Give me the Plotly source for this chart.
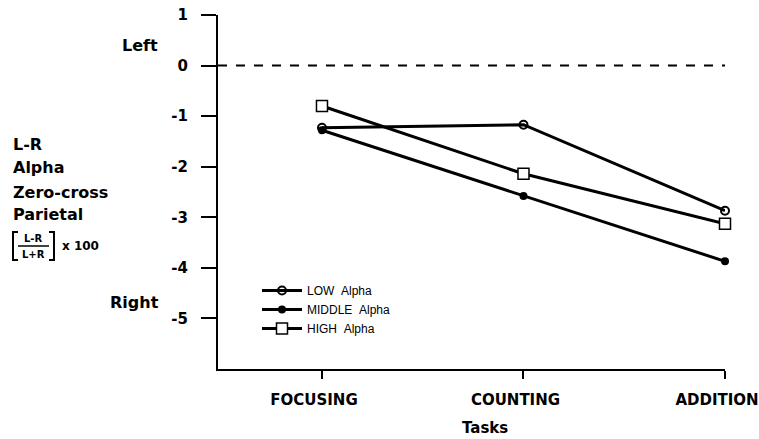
import plotly.graph_objects as go

tasks = ["FOCUSING", "COUNTING", "ADDITION"]
task_pos = [0, 1, 2]
low_alpha = [-1.23, -1.17, -2.87]
middle_alpha = [-1.28, -2.58, -3.87]
high_alpha = [-0.80, -2.14, -3.13]
y_ticks = [1, 0, -1, -2, -3, -4, -5]
y_tick_labels = ["1", "0", "-1", "-2", "-3", "-4", "-5"]

W, H = 759, 439
L, R, T, B = 218, 34, 15, 70
PW, PH = W - L - R, H - T - B


def px(x):
    return (x - L) / PW


def py(y):
    return (H - B - y) / PH


BOLD = dict(family="DejaVu Sans", size=15, color="black", weight="bold")
SIDE = dict(family="DejaVu Sans", size=16, color="black", weight="bold")

fig = go.Figure()
fig.add_trace(go.Scatter(
    x=task_pos, y=low_alpha, name="LOW\u00a0\u00a0Alpha", mode="lines+markers",
    line=dict(color="black", width=3),
    marker=dict(symbol="circle-open", size=8, color="black", line=dict(width=2)),
    cliponaxis=False))
fig.add_trace(go.Scatter(
    x=task_pos, y=middle_alpha, name="MIDDLE\u00a0\u00a0Alpha", mode="lines+markers",
    line=dict(color="black", width=3),
    marker=dict(symbol="circle", size=8, color="black"),
    cliponaxis=False))
fig.add_trace(go.Scatter(
    x=task_pos, y=high_alpha, name="HIGH\u00a0\u00a0Alpha", mode="lines+markers",
    line=dict(color="black", width=3),
    marker=dict(symbol="square", size=11, color="white", line=dict(width=1.5, color="black")),
    cliponaxis=False))

shapes = [
    dict(type="line", xref="x", yref="y", x0=-0.516, x1=2.02, y0=0, y1=0,
         line=dict(color="black", width=2, dash="dash")),
    # bracket decoration for the fraction label
    dict(type="path", xref="paper", yref="paper",
         path=f"M {px(18)} {py(232)} L {px(13)} {py(232)} L {px(13)} {py(260)} L {px(18)} {py(260)}",
         line=dict(color="black", width=2)),
    dict(type="path", xref="paper", yref="paper",
         path=f"M {px(49)} {py(232)} L {px(54)} {py(232)} L {px(54)} {py(260)} L {px(49)} {py(260)}",
         line=dict(color="black", width=2)),
    dict(type="line", xref="paper", yref="paper", x0=px(18), x1=px(49), y0=py(246), y1=py(246),
         line=dict(color="black", width=1.5)),
]

annotations = []


def add_text(text, x, y, xanchor="left", font=None):
    annotations.append(dict(text=text, x=px(x), y=py(y), xref="paper", yref="paper",
                            xanchor=xanchor, yanchor="middle", showarrow=False,
                            font=font or BOLD))


add_text("Left", 140, 45, "center", SIDE)
add_text("Right", 134, 302, "center", SIDE)
add_text("L-R", 11, 145, font=SIDE)
add_text("Alpha", 11, 168, font=SIDE)
add_text("Zero-cross", 11, 192, font=SIDE)
add_text("Parietal", 11, 214, font=SIDE)
small = dict(family="DejaVu Sans", size=10, color="black", weight="bold")
add_text("L-R", 33.5, 239, "center", small)
add_text("L+R", 33.5, 254, "center", small)
add_text("x 100", 60, 246, "left", dict(family="DejaVu Sans", size=12, color="black", weight="bold"))
add_text("Tasks", 485, 428, "center")

fig.update_layout(
    width=W, height=H,
    margin=dict(l=L, r=R, t=T, b=B, autoexpand=False),
    paper_bgcolor="white", plot_bgcolor="white",
    showlegend=True,
    legend=dict(x=px(257), y=py(276), xanchor="left", yanchor="top",
                font=dict(family="Liberation Sans", size=12, color="black"),
                bgcolor="rgba(0,0,0,0)", itemwidth=40, tracegroupgap=0),
    shapes=shapes,
    annotations=annotations,
    xaxis=dict(range=[-0.516, 2], tickvals=task_pos, ticktext=tasks,
               showgrid=False, zeroline=False, showline=True, linecolor="black", linewidth=2,
               ticks="outside", ticklen=8, tickwidth=1.5, tickcolor="black",
               tickfont=BOLD, ticklabelstandoff=8, ticklabelshift=-8,
               ticklabeloverflow="allow", fixedrange=True, automargin=False),
    yaxis=dict(range=[-6, 1], tickvals=y_ticks, ticktext=y_tick_labels,
               showgrid=False, zeroline=False, showline=True, linecolor="black", linewidth=2,
               ticks="outside", ticklen=15, tickwidth=1.5, tickcolor="black",
               tickfont=BOLD, ticklabelstandoff=10, fixedrange=True, automargin=False),
)

fig.write_html("out.html", config={"displayModeBar": False},
               post_script="document.body.style.margin='0';document.body.style.overflow='hidden';")
